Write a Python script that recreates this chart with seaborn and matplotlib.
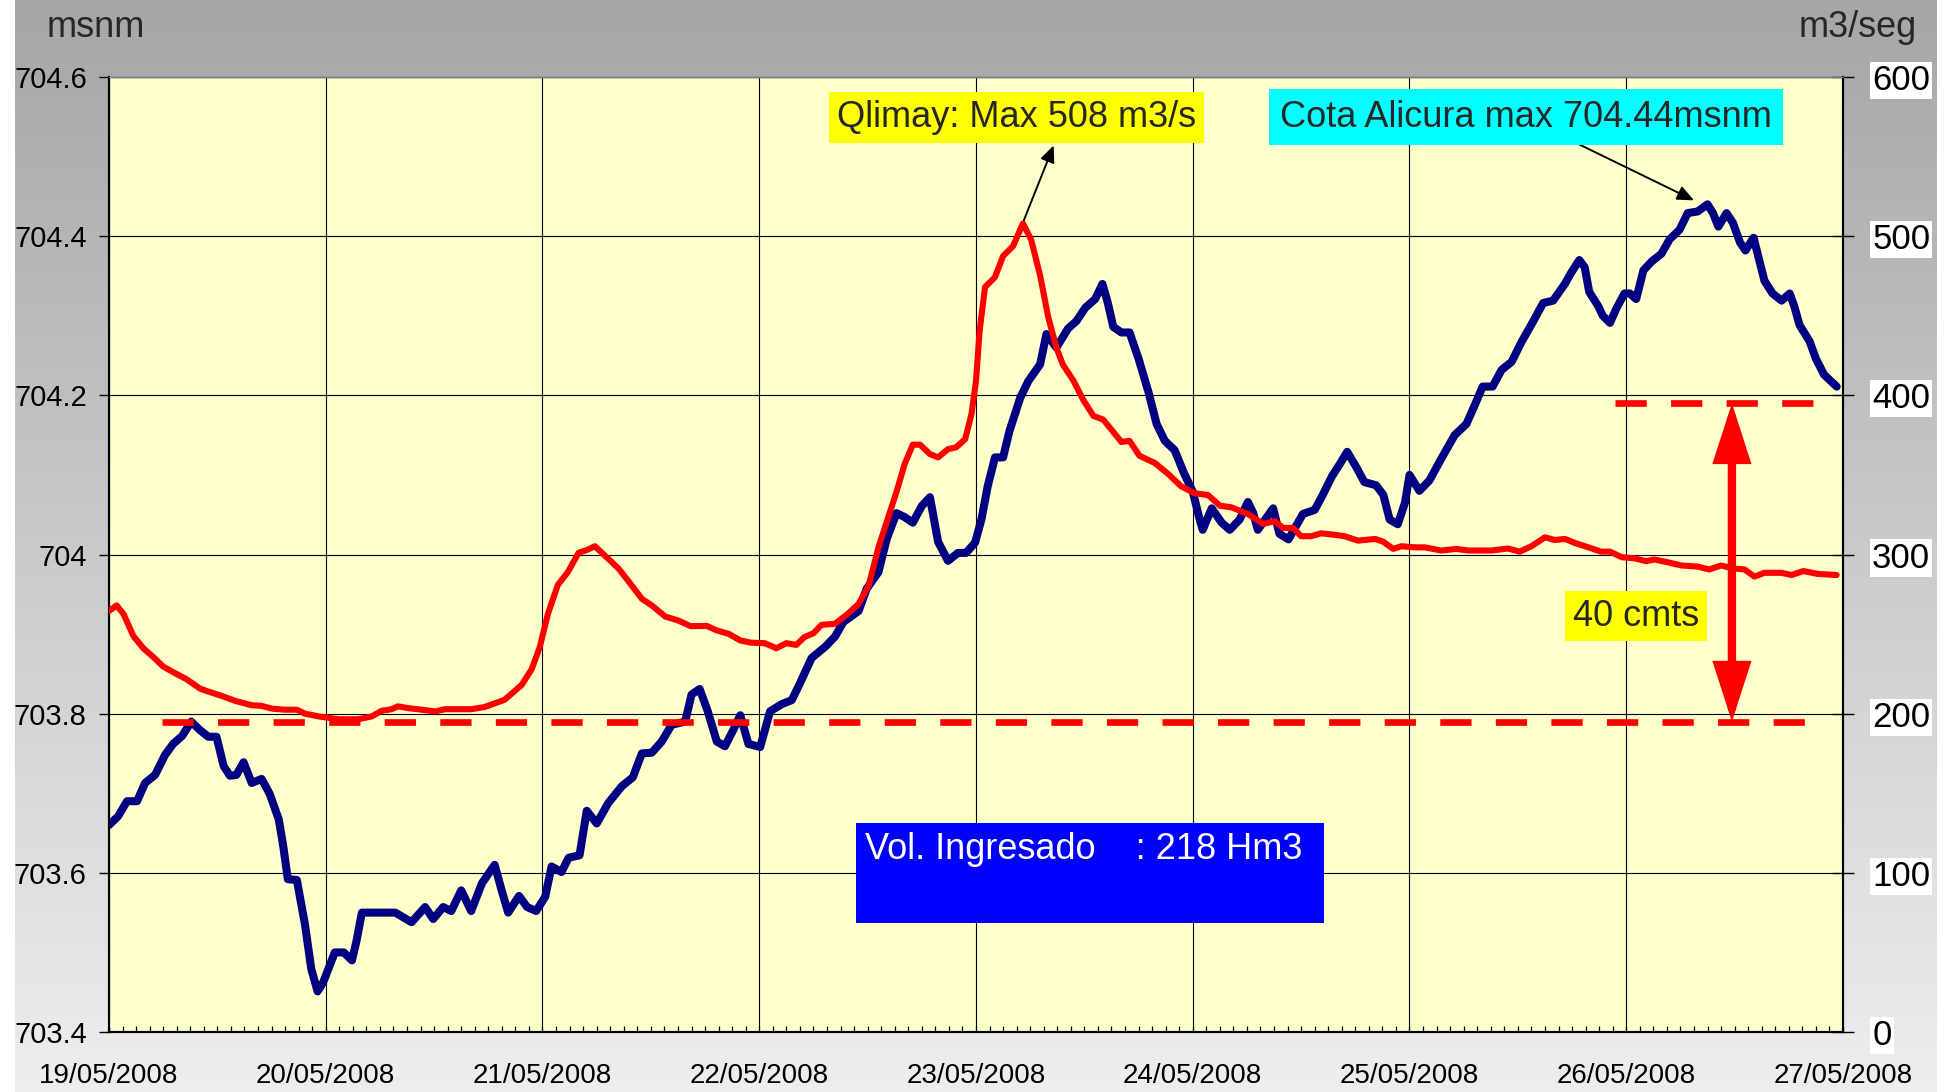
import numpy as np
import pandas as pd
import matplotlib
matplotlib.use("Agg")
import matplotlib.pyplot as plt
import matplotlib.ticker as mticker
from matplotlib.colors import LinearSegmentedColormap
from matplotlib.patches import Rectangle
import seaborn as sns

# DATOS (horas desde 19/05/2008 00:00)
HORAS_COTA = [0, 1.0, 2.0, 3.1, 4.0, 5.1, 6.2, 7.1, 8.1, 9.1, 10.1, 11.0, 11.9, 12.7, 13.4, 14.1,
              14.9, 15.8, 16.9, 17.8, 18.8, 19.3, 19.8, 20.8, 21.7, 22.4, 23.1, 23.7, 25.0, 26.0,
              26.9, 27.4, 28.0, 29.1, 30.2, 31.7, 33.5, 35.0, 35.9, 37.0, 37.9, 39.0, 40.1, 41.3,
              42.7, 43.5, 44.2, 45.4, 46.3, 47.3, 48.3, 49.0, 50.1, 50.9, 52.1, 52.9, 54.0, 55.3,
              56.8, 58.0, 59.0, 60.1, 61.2, 62.3, 63.8, 64.5, 65.4, 66.3, 67.3, 68.2, 69.1, 69.9,
              70.8, 72.1, 73.2, 74.5, 75.6, 76.5, 77.8, 79.3, 80.4, 81.3, 83.0, 83.9, 85.2, 86.1,
              87.2, 88.1, 89.0, 90.0, 90.9, 91.8, 92.9, 94.0, 94.9, 95.9, 96.6, 97.3, 98.1, 99.0,
              99.7, 100.9, 101.8, 103.1, 103.8, 104.9, 106.2, 107.1, 108.1, 109.2, 110.0, 110.6,
              111.2, 112.1, 113.0, 114.0, 115.1, 116.0, 116.9, 118.0, 119.0, 120.0, 120.7, 121.1,
              122.1, 123.2, 124.1, 125.2, 126.1, 126.7, 127.2, 128.2, 128.9, 129.6, 130.6, 131.5,
              132.2, 133.5, 134.4, 135.4, 136.3, 137.1, 138.1, 139.0, 140.3, 141.1, 141.8, 142.7,
              143.5, 144.0, 145.1, 146.2, 147.5, 149.0, 150.3, 151.2, 152.1, 153.2, 154.2, 155.3,
              156.4, 157.7, 158.8, 159.9, 161.2, 161.9, 162.8, 163.4, 163.9, 164.9, 165.4, 166.2,
              166.9, 167.8, 168.4, 169.1, 169.9, 170.8, 171.9, 172.8, 173.9, 174.8, 175.9, 177.0,
              177.6, 178.2, 179.1, 179.8, 180.6, 181.2, 182.1, 182.7, 183.3, 184.2, 185.2, 186.1,
              186.6, 187.2, 188.3, 189.0, 189.9, 191.3]
COTA = [703.660, 703.671, 703.690, 703.690, 703.713, 703.723, 703.748, 703.762, 703.772, 703.790,
        703.779, 703.771, 703.771, 703.734, 703.722, 703.723, 703.739, 703.713, 703.718, 703.699,
        703.667, 703.633, 703.592, 703.591, 703.535, 703.479, 703.451, 703.462, 703.500, 703.500,
        703.490, 703.514, 703.550, 703.550, 703.550, 703.550, 703.538, 703.557, 703.542, 703.557,
        703.552, 703.578, 703.552, 703.587, 703.610, 703.577, 703.550, 703.571, 703.557, 703.552,
        703.570, 703.608, 703.601, 703.619, 703.622, 703.678, 703.662, 703.688, 703.709, 703.720,
        703.750, 703.751, 703.765, 703.786, 703.790, 703.824, 703.831, 703.803, 703.765, 703.759,
        703.779, 703.798, 703.762, 703.758, 703.803, 703.812, 703.817, 703.838, 703.870, 703.884,
        703.897, 703.915, 703.929, 703.957, 703.978, 704.019, 704.052, 704.047, 704.040, 704.061,
        704.072, 704.016, 703.992, 704.002, 704.002, 704.015, 704.044, 704.086, 704.122, 704.122,
        704.155, 704.197, 704.218, 704.239, 704.277, 704.260, 704.284, 704.293, 704.310, 704.321,
        704.340, 704.316, 704.286, 704.279, 704.279, 704.246, 704.204, 704.164, 704.143, 704.131,
        704.103, 704.079, 704.047, 704.031, 704.058, 704.040, 704.031, 704.044, 704.066, 704.052,
        704.031, 704.047, 704.058, 704.026, 704.019, 704.037, 704.051, 704.056, 704.075, 704.098,
        704.114, 704.129, 704.110, 704.091, 704.087, 704.075, 704.044, 704.038, 704.065, 704.100,
        704.080, 704.093, 704.120, 704.150, 704.164, 704.187, 704.211, 704.211, 704.232, 704.242,
        704.267, 704.293, 704.316, 704.319, 704.340, 704.354, 704.370, 704.361, 704.330, 704.312,
        704.300, 704.291, 704.309, 704.328, 704.328, 704.321, 704.357, 704.368, 704.378, 704.396,
        704.408, 704.429, 704.431, 704.440, 704.429, 704.412, 704.429, 704.417, 704.392, 704.382,
        704.398, 704.371, 704.344, 704.328, 704.319, 704.328, 704.312, 704.288, 704.268, 704.246,
        704.226, 704.211]

HORAS_Q = [0, 0.85, 1.6, 2.7, 3.8, 4.9, 6.0, 7.3, 8.6, 10.1, 11.0, 12.3, 14.0, 15.8, 16.9, 18.0,
           19.5, 20.8, 21.7, 23.2, 25.4, 27.6, 29.1, 30.2, 31.3, 32.0, 33.1, 34.6, 36.1, 37.2,
           40.1, 41.6, 43.8, 45.7, 46.8, 47.7, 48.6, 49.7, 50.8, 52.0, 52.9, 53.8, 54.9, 56.4,
           57.7, 59.0, 60.1, 61.6, 63.0, 64.4, 66.2, 67.3, 68.6, 69.9, 71.1, 72.6, 73.9, 75.0,
           76.1, 77.0, 78.0, 78.9, 80.4, 81.8, 83.0, 84.1, 85.2, 86.3, 87.2, 88.1, 89.0, 89.8,
           90.9, 91.8, 92.9, 93.8, 94.8, 95.5, 96.0, 96.4, 97.0, 98.1, 99.0, 100.1, 101.2, 102.1,
           103.1, 104.0, 104.9, 105.6, 106.8, 107.9, 109.0, 110.1, 111.0, 112.1, 113.0, 114.1,
           115.8, 117.3, 118.7, 120.2, 121.7, 123.0, 124.3, 126.1, 127.8, 129.1, 130.0, 131.1,
           132.0, 133.1, 134.2, 135.4, 136.8, 138.3, 140.2, 141.1, 142.2, 143.1, 144.6, 145.7,
           147.5, 149.2, 150.5, 153.1, 154.9, 156.2, 157.5, 159.0, 160.1, 161.2, 162.3, 163.8,
           165.2, 166.2, 167.5, 168.9, 170.2, 171.1, 172.6, 174.1, 175.9, 177.2, 178.5, 179.8,
           181.1, 182.2, 183.3, 185.2, 186.3, 187.6, 189.2, 191.3]
CAUDAL = [264.5, 268.0, 262.7, 248.8, 241.1, 235.6, 229.6, 225.5, 221.6, 215.7, 213.9, 211.5,
          208.0, 205.3, 204.9, 203.2, 202.5, 202.5, 200.0, 198.3, 196.5, 196.5, 198.3, 201.8,
          202.8, 204.6, 203.5, 202.5, 201.4, 202.8, 202.8, 204.2, 208.7, 218.1, 227.9, 241.8,
          262.7, 280.9, 288.9, 301.1, 302.8, 305.2, 299.3, 291.3, 281.9, 272.2, 268.0, 261.0,
          258.6, 255.0, 255.1, 252.3, 250.2, 246.0, 244.6, 244.3, 241.1, 244.3, 243.2, 248.1,
          250.5, 255.8, 256.5, 262.7, 269.0, 280.2, 304.5, 323.7, 339.4, 356.8, 369.0, 369.0,
          363.1, 361.0, 366.2, 367.3, 372.5, 388.2, 409.1, 440.4, 468.0, 474.2, 487.5, 493.7,
          508.0, 497.9, 475.3, 449.1, 430.0, 419.5, 409.1, 396.9, 387.1, 384.7, 378.4, 370.7,
          371.4, 362.0, 357.5, 350.5, 342.9, 338.5, 337.3, 330.7, 329.6, 325.5, 319.2, 320.9,
          316.7, 316.7, 311.5, 311.5, 313.3, 312.6, 311.5, 308.7, 309.8, 308.0, 303.5, 305.2,
          304.5, 304.5, 302.5, 303.5, 302.5, 302.5, 303.8, 301.8, 305.2, 310.8, 309.1, 309.8,
          307.3, 304.5, 301.8, 301.8, 298.3, 297.6, 295.8, 296.9, 295.1, 293.1, 292.4, 290.6,
          293.1, 291.3, 290.6, 286.1, 288.5, 288.5, 287.1, 289.6, 287.8, 287.1]

DIAS = ["19/05/2008", "20/05/2008", "21/05/2008", "22/05/2008", "23/05/2008",
        "24/05/2008", "25/05/2008", "26/05/2008", "27/05/2008"]
COTA_TICKS = [703.4, 703.6, 703.8, 704.0, 704.2, 704.4, 704.6]
Q_TICKS = [0, 100, 200, 300, 400, 500, 600]

# referencias (40 cm)
COTA_BASE = 703.79
COTA_SUP = 704.19
Q_MAX = 508
COTA_MAX = 704.44

df_cota = pd.DataFrame({"hora": HORAS_COTA, "cota": COTA})
df_q = pd.DataFrame({"hora": HORAS_Q, "caudal": CAUDAL})

sns.set_style("white")
plt.rcParams["font.family"] = ["Liberation Sans", "DejaVu Sans"]
plt.rcParams["lines.scale_dashes"] = False

fig = plt.figure(figsize=(19.57, 10.92), dpi=100)
fig.patch.set_facecolor("white")

# fondo gris degradado
bg = fig.add_axes([15 / 1957, 0, 1922 / 1957, 1])
grad = np.linspace(0, 1, 256).reshape(-1, 1)
bg.imshow(grad, aspect="auto", cmap=LinearSegmentedColormap.from_list("fondo", ["#A6A6A6", "#EEEEEE"]),
          extent=[0, 1, 0, 1])
bg.set_axis_off()

ax = fig.add_axes([109 / 1957, 60 / 1092, 1734 / 1957, 955 / 1092])
ax.set_facecolor("#FFFFCC")

sns.lineplot(data=df_cota, x="hora", y="cota", ax=ax, color="#000080", linewidth=5.8,
             legend=False, solid_joinstyle="round", solid_capstyle="round", zorder=3)

ax2 = ax.twinx()
sns.lineplot(data=df_q, x="hora", y="caudal", ax=ax2, color="#FF0000", linewidth=4.4,
             legend=False, solid_joinstyle="round", solid_capstyle="round", zorder=3)

ax.set_xlim(0, 192)
ax.set_ylim(703.4, 704.6)
ax2.set_ylim(0, 600)
ax.set_xlabel("")
ax.set_ylabel("")
ax2.set_ylabel("")

ax.set_xticks(np.arange(0, 193, 24))
ax.set_xticklabels(DIAS)
ax.xaxis.set_minor_locator(mticker.MultipleLocator(1.5))
ax.set_yticks(COTA_TICKS)
ax.set_yticklabels(["%g" % v for v in COTA_TICKS])
ax2.set_yticks(Q_TICKS)
ax2.set_yticklabels([str(v) for v in Q_TICKS])

ax.grid(True, which="major", color="black", linewidth=0.8)
ax.set_axisbelow(True)

ax.tick_params(axis="x", which="both", direction="in", length=4.5, width=0.9, pad=22,
               labelsize=20, colors="black", bottom=True)
ax.tick_params(axis="y", direction="out", length=7, width=1, pad=9, labelsize=21,
               colors="black", left=True)
ax2.tick_params(axis="y", direction="inout", length=16, width=1, pad=13, labelsize=25,
                colors="black", right=True)
for t in ax2.get_yticklabels():
    t.set_bbox(dict(facecolor="white", edgecolor="none", pad=1.5))

for a in (ax, ax2):
    for s in ["left", "right", "bottom"]:
        a.spines[s].set_color("black")
        a.spines[s].set_linewidth(1.5)
    a.spines["top"].set_color("#808080")
    a.spines["top"].set_linewidth(1)

# lineas de referencia (40 cm)
ax.hlines(COTA_BASE, 5.9, 188.1, colors="#FF0000", linewidth=4.8, linestyles=(0, (22.5, 17.5)), zorder=4)
ax.hlines(COTA_SUP, 166.8, 188.9, colors="#FF0000", linewidth=4.8, linestyles=(0, (22.5, 17.5)), zorder=4)
ax.annotate("", xy=(179.7, COTA_SUP), xytext=(179.7, COTA_BASE),
            arrowprops=dict(arrowstyle="<|-|>,head_length=1.55,head_width=0.5", color="#FF0000",
                            lw=6, shrinkA=0, shrinkB=0, mutation_scale=20, joinstyle="miter"),
            zorder=5)

# anotaciones
ax2.annotate("", xy=(104.6, 557), xytext=(101.3, Q_MAX + 2),
             arrowprops=dict(arrowstyle="-|>,head_length=0.5,head_width=0.22", color="black",
                             lw=1.4, shrinkA=0, shrinkB=0, mutation_scale=20), zorder=6)
ax.annotate("", xy=(175.5, COTA_MAX + 0.005), xytext=(162.3, 704.518),
            arrowprops=dict(arrowstyle="-|>,head_length=0.5,head_width=0.22", color="black",
                            lw=1.4, shrinkA=0, shrinkB=0, mutation_scale=20), zorder=6)

caja = dict(boxstyle="square,pad=0.22", edgecolor="none")
ax2.text(0.5234, 0.958, "Qlimay: Max %d m3/s" % Q_MAX, transform=ax2.transAxes, ha="center",
         va="center", fontsize=26, bbox=dict(caja, facecolor="#FFFF00"), zorder=7)
ax2.text(0.8172, 0.958, "Cota Alicura max %.2fmsnm" % COTA_MAX, transform=ax2.transAxes,
         ha="center", va="center", fontsize=26, bbox=dict(caja, facecolor="#00FFFF",
                                                          boxstyle="square,pad=0.3"), zorder=7)
ax2.text(0.8806, 0.4356, "40 cmts", transform=ax2.transAxes, ha="center", va="center",
         fontsize=26, bbox=dict(caja, facecolor="#FFFF00"), zorder=7)

ax2.add_patch(Rectangle((0.4308, 0.1141), 0.2699, 0.1047, transform=ax2.transAxes,
                        facecolor="#0000FF", edgecolor="none", zorder=7))
ax2.text(0.4360, 0.191, "Vol. Ingresado    : 218 Hm3", transform=ax2.transAxes, ha="left",
         va="center", fontsize=26, color="white", zorder=8)

fig.text(96 / 1957, 1 - 37 / 1092, "msnm", ha="center", va="baseline", fontsize=26)
fig.text(1858 / 1957, 1 - 37 / 1092, "m3/seg", ha="center", va="baseline", fontsize=26)

fig.savefig("out.png", dpi=100)
